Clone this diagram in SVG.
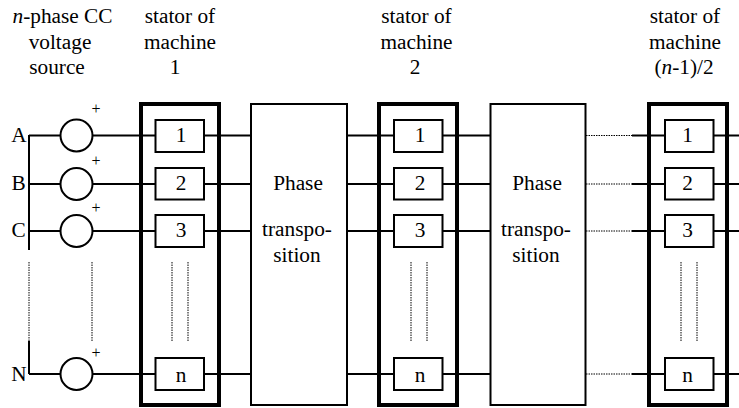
<svg xmlns="http://www.w3.org/2000/svg" width="739" height="408" viewBox="0 0 739 408">
<style>
text{font-family:"Liberation Serif","Times New Roman",serif;font-size:21.3px;fill:#000;text-anchor:middle}
.sm{font-size:16px}
.w{fill:none;stroke:#000;stroke-width:2}
.dot{fill:none;stroke:#000;stroke-width:1;stroke-dasharray:1.500 1}
.box{fill:#fff;stroke:#000;stroke-width:2}
.heavy{fill:none;stroke:#000;stroke-width:4}
.src{fill:#fff;stroke:#000;stroke-width:2}
</style>
<rect width="739" height="408" fill="#fff"/>
<g id="connectors">
<path class="w" d="M29 135.500H141M29 184H141M29 231H141M29 374H141M29 135V250M29 341V374"/>
<path class="w" d="M141 135.500H155M141 184H155M141 231H155M141 374H155M204 135.500H251M204 184H251M204 231H251M204 374H251"/>
<path class="w" d="M347 135.500H394M347 184H394M347 231H394M347 374H394M443 135.500H490M443 184H490M443 231H490M443 374H490"/>
<path class="w" d="M632 135.500H665M632 184H665M632 231H665M632 374H665M714 135.500H739M714 184H739M714 231H739M714 374H739"/>
<path class="dot" d="M586 135.500H632M586 184H632M586 231H632M586 374H632"/>
<path class="dot" d="M29 262V341M92 262V341M172 262V341M188 262V341M411 262V341M427 262V341M681 262V341M697 262V341"/>
</g>
<g id="source-A"><circle class="src" cx="76.500" cy="135.500" r="16"/><text x="19" y="141.500">A</text><text class="sm" x="96" y="113.500">+</text></g>
<g id="source-B"><circle class="src" cx="76.500" cy="184" r="16"/><text x="18.500" y="190">B</text><text class="sm" x="96" y="166">+</text></g>
<g id="source-C"><circle class="src" cx="76.500" cy="231" r="16"/><text x="18.500" y="236.500">C</text><text class="sm" x="96" y="212.500">+</text></g>
<g id="source-N"><circle class="src" cx="76.500" cy="374" r="16"/><text x="19" y="381">N</text><text class="sm" x="96" y="357.500">+</text></g>
<g id="source-label"><text x="62.500" y="23"><tspan font-style="italic">n</tspan>-phase CC</text><text x="60" y="49">voltage</text><text x="57" y="74">source</text></g>
<g id="machine-1">
<rect class="heavy" x="141" y="104" width="78" height="301"/>
<rect class="box" x="155.500" y="120" width="48.500" height="32"/><text x="181" y="142">1</text>
<rect class="box" x="155.500" y="168" width="48.500" height="31.500"/><text x="181" y="190">2</text>
<rect class="box" x="155.500" y="215" width="48.500" height="32"/><text x="181" y="237">3</text>
<rect class="box" x="155.500" y="358" width="48.500" height="32"/><text x="181" y="381.500">n</text>
<text x="180" y="23">stator of</text><text x="180" y="49">machine</text><text x="175" y="74">1</text>
</g>
<g id="phase-1"><rect class="box" x="251" y="104" width="96" height="301"/><text x="298" y="190">Phase</text><text x="297" y="236">transpo-</text><text x="297" y="262">sition</text></g>
<g id="machine-2">
<rect class="heavy" x="379" y="104" width="78" height="301"/>
<rect class="box" x="394" y="120" width="48.500" height="32"/><text x="420" y="142">1</text>
<rect class="box" x="394" y="168" width="48.500" height="31.500"/><text x="420" y="190">2</text>
<rect class="box" x="394" y="215" width="48.500" height="32"/><text x="420" y="237">3</text>
<rect class="box" x="394" y="358" width="48.500" height="32"/><text x="420" y="381.500">n</text>
<text x="416.500" y="23">stator of</text><text x="416.500" y="49">machine</text><text x="415" y="74">2</text>
</g>
<g id="phase-2"><rect class="box" x="490.500" y="104" width="95" height="301"/><text x="537" y="190">Phase</text><text x="536" y="236">transpo-</text><text x="536" y="262">sition</text></g>
<g id="machine-3">
<rect class="heavy" x="649" y="104" width="78" height="301"/>
<rect class="box" x="665" y="120" width="48.500" height="32"/><text x="687.500" y="142">1</text>
<rect class="box" x="665" y="168" width="48.500" height="31.500"/><text x="687.500" y="190">2</text>
<rect class="box" x="665" y="215" width="48.500" height="32"/><text x="687.500" y="237">3</text>
<rect class="box" x="665" y="358" width="48.500" height="32"/><text x="687.500" y="381.500">n</text>
<text x="685" y="23">stator of</text><text x="685" y="49">machine</text><text x="684" y="74">(<tspan font-style="italic">n</tspan>-1)/2</text>
</g>
</svg>
